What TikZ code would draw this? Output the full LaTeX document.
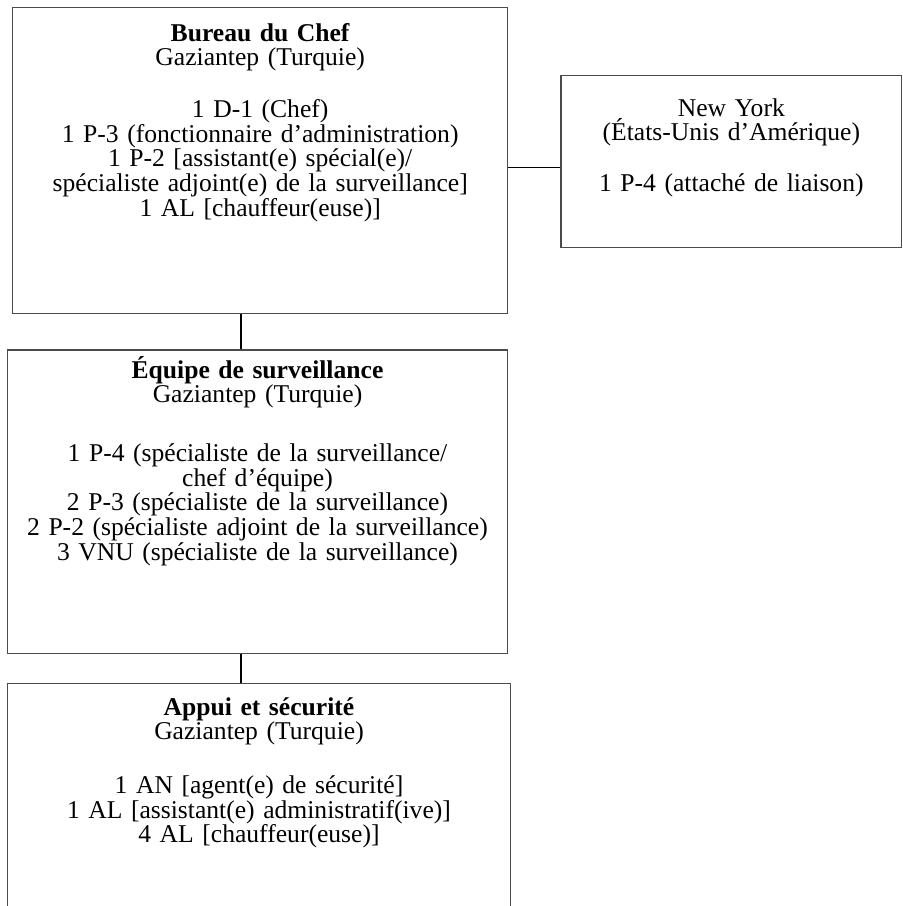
\documentclass[tikz,border=0pt]{standalone}
\usepackage{fontspec}
\setmainfont{Liberation Serif}
\definecolor{boxgray}{RGB}{75,75,75}
\begin{document}
\begin{tikzpicture}[x=1pt,y=-1pt,
  box/.style={draw=boxgray, line width=1.4pt, inner sep=0pt, minimum width=#1},
  txt/.style={inner sep=0pt, anchor=base, align=center, text width=496pt,
    font=\fontsize{25.6}{24.6}\selectfont},
  conn/.style={draw=black, line width=1.2pt}]
\useasboundingbox (0,0) rectangle (903,906);
% boxes
\node[box=495pt, minimum height=305.8pt] (b1) at (260.2,160.4) {};
\node[box=340.7pt, minimum height=172pt] (ny) at (731.35,161.7) {};
\node[box=500.4pt, minimum height=303.3pt] (b3) at (257.5,501.65) {};
\node[box=503.4pt, minimum height=224.7pt] (b4) at (259,795.65) {};
% texts
\node[txt] (t1) at (260.2,41) {\textbf{Bureau du Chef}\\Gaziantep (Turquie)\\[27.4pt]1 D-1 (Chef)\\1 P-3 (fonctionnaire d’administration)\\1 P-2 [assistant(e) spécial(e)/\\spécialiste adjoint(e) de la surveillance]\\1 AL [chauffeur(euse)]};
\node[txt, text width=336pt] (t2) at (731.35,116) {New York\\(États-Unis d’Amérique)\\[26.4pt]1 P-4 (attaché de liaison)};
\node[txt] (t3) at (257.5,378) {\textbf{Équipe de surveillance}\\Gaziantep (Turquie)\\[34.4pt]1 P-4 (spécialiste de la surveillance/\\chef d’équipe)\\2 P-3 (spécialiste de la surveillance)\\2 P-2 (spécialiste adjoint de la surveillance)\\3 VNU (spécialiste de la surveillance)};
\node[txt] (t4) at (259,715) {\textbf{Appui et sécurité}\\Gaziantep (Turquie)\\[29.4pt]1 AN [agent(e) de sécurité]\\1 AL [assistant(e) administratif(ive)]\\4 AL [chauffeur(euse)]};
% connectors
\coordinate (j1) at (535,167.7);
\coordinate (j2) at (241,330);
\draw[conn] (j1 -| b1.east) -- (j1 -| ny.west);
\draw[conn] (j2 |- b1.south) -- (j2 |- b3.north);
\draw[conn] (j2 |- b3.south) -- (j2 |- b4.north);
\end{tikzpicture}
\end{document}
